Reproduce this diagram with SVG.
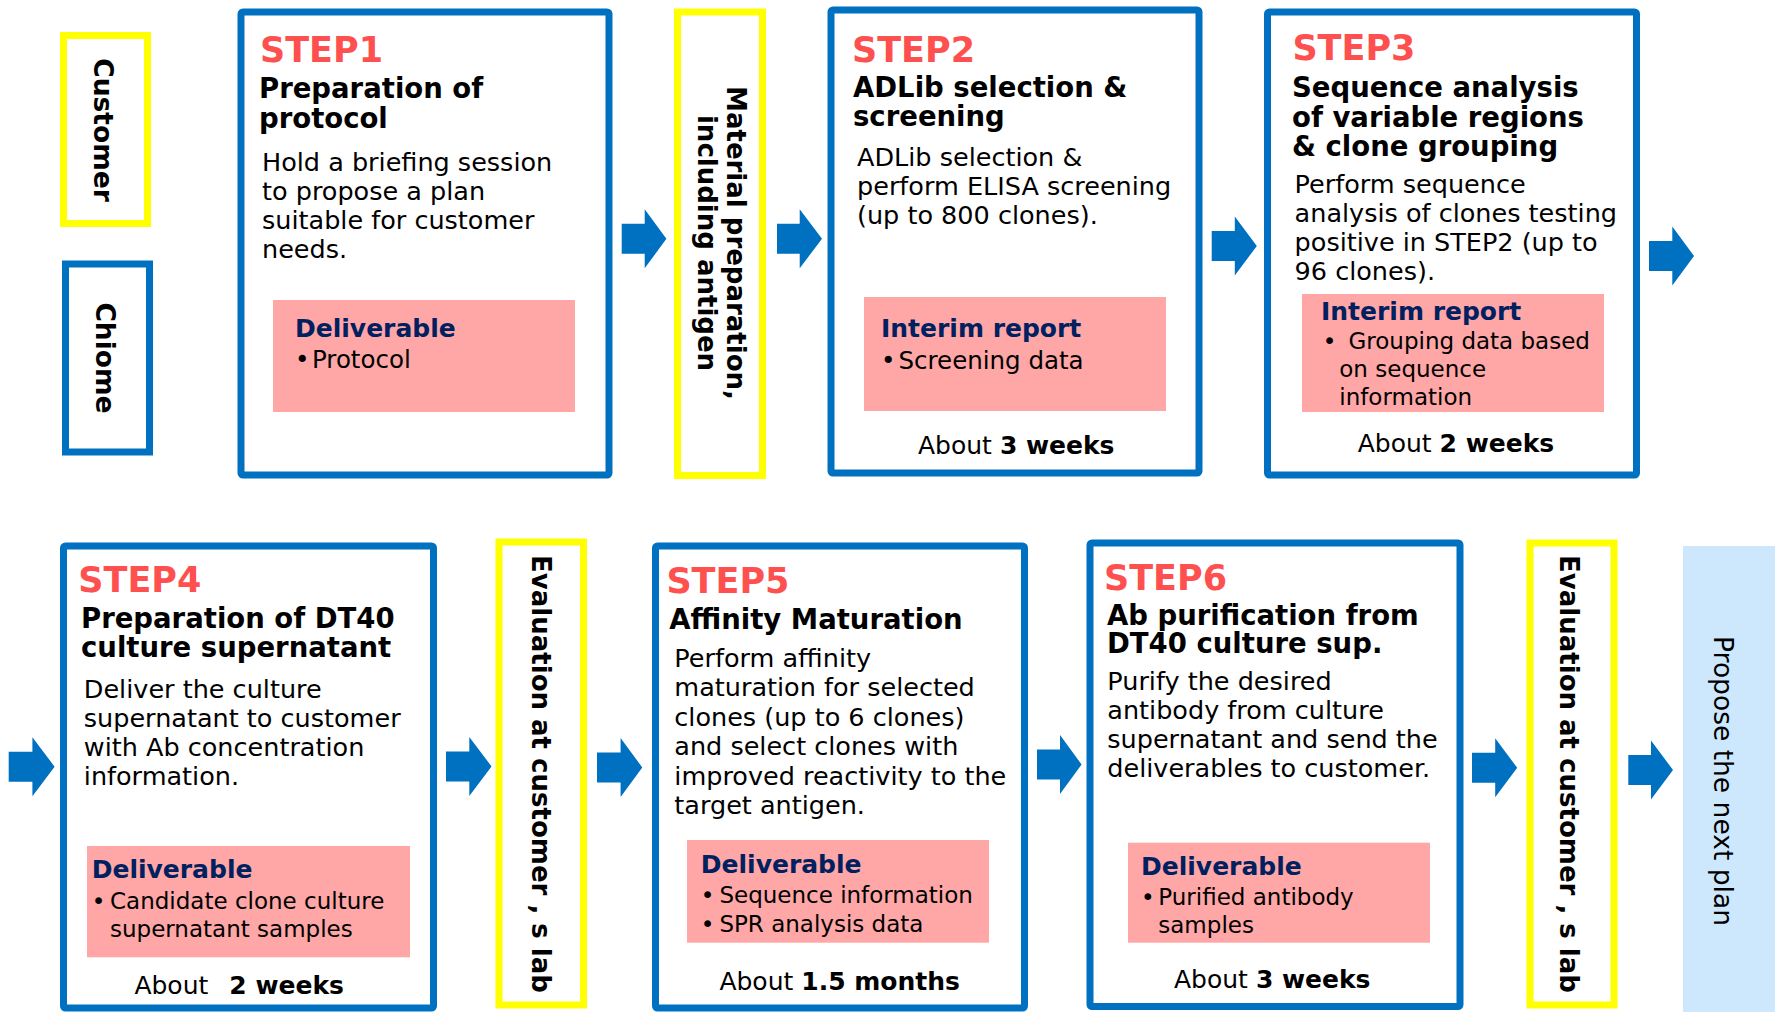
<svg xmlns="http://www.w3.org/2000/svg" width="1775" height="1012" viewBox="0 0 1775 1012">
<style>
text{font-family:"DejaVu Sans","Verdana",sans-serif;fill:#000}
.box{fill:#fff;stroke:#0070C0;stroke-width:7}
.ybox{fill:#fff;stroke:#FFFF00;stroke-width:7}
.pink{fill:#FFA6A6}
.step{font-size:35px;font-weight:bold;fill:#FF5050}
.title{font-size:27.5px;font-weight:bold}
.body{font-size:25.5px}
.dh{font-size:25px;font-weight:bold;fill:#002060}
.di{font-size:23px}
.di2{font-size:24.5px}
.dur{font-size:25px}
.b{font-weight:bold}
.vert{font-size:26.5px;font-weight:bold}
.vert2{font-size:26px;font-weight:bold}
.arrow{fill:#0070C0}
</style>
<rect width="1775" height="1012" fill="#fff"/>

<g id="legend-customer">
<rect class="ybox" x="63.5" y="35.5" width="84" height="188"/>
<text class="vert" transform="translate(94,130) rotate(90)" text-anchor="middle">Customer</text>
</g>
<g id="legend-chiome">
<rect class="box" x="65.5" y="264" width="84" height="188"/>
<text class="vert" transform="translate(96,358) rotate(90)" text-anchor="middle">Chiome</text>
</g>

<g id="step1">
<rect class="box" x="241" y="12" width="368" height="463" rx="2"/>
<text class="step" x="260" y="62">STEP1</text>
<text class="title" x="259" y="98">Preparation of</text>
<text class="title" x="259" y="128">protocol</text>
<text class="body" x="262" y="171">Hold a briefing session</text>
<text class="body" x="262" y="200">to propose a plan</text>
<text class="body" x="262" y="229">suitable for customer</text>
<text class="body" x="262" y="258">needs.</text>
<rect class="pink" x="273" y="300" width="302" height="112"/>
<text class="dh" x="295" y="337">Deliverable</text>
<text class="di2" x="295" y="368">•</text>
<text class="di2" x="312" y="368">Protocol</text>
</g>

<g id="material">
<rect class="ybox" x="677.5" y="12" width="85" height="463.5"/>
<text class="vert2" transform="translate(727,243) rotate(90)" text-anchor="middle">Material preparation,</text>
<text class="vert2" transform="translate(698,243) rotate(90)" text-anchor="middle">including antigen</text>
</g>

<g id="step2">
<rect class="box" x="831" y="10" width="368" height="463" rx="2"/>
<text class="step" x="852" y="62">STEP2</text>
<text class="title" x="853" y="96.5">ADLib selection &amp;</text>
<text class="title" x="853" y="126">screening</text>
<text class="body" x="857" y="165.5">ADLib selection &amp;</text>
<text class="body" x="857" y="194.5">perform ELISA screening</text>
<text class="body" x="857" y="223.5">(up to 800 clones).</text>
<rect class="pink" x="864" y="297" width="302" height="114"/>
<text class="dh" x="881" y="337">Interim report</text>
<text class="di2" x="881" y="369">•</text>
<text class="di2" x="898.5" y="369">Screening data</text>
<text class="dur" x="918" y="454">About <tspan class="b">3 weeks</tspan></text>
</g>

<g id="step3">
<rect class="box" x="1267.5" y="12" width="369" height="463" rx="2"/>
<text class="step" x="1292.4" y="60">STEP3</text>
<text class="title" x="1292" y="96.7">Sequence analysis</text>
<text class="title" x="1292" y="126.5">of variable regions</text>
<text class="title" x="1292" y="156">&amp; clone grouping</text>
<text class="body" x="1294.6" y="193.3">Perform sequence</text>
<text class="body" x="1294.6" y="222.3">analysis of clones testing</text>
<text class="body" x="1294.6" y="251">positive in STEP2 (up to</text>
<text class="body" x="1294.6" y="280">96 clones).</text>
<rect class="pink" x="1302" y="294" width="302" height="118"/>
<text class="dh" x="1321" y="320">Interim report</text>
<text class="di" x="1322.8" y="349.3">•</text>
<text class="di" x="1348.5" y="349.3">Grouping data based</text>
<text class="di" x="1339.3" y="376.5">on sequence</text>
<text class="di" x="1339.3" y="405">information</text>
<text class="dur" x="1357.7" y="451.7">About <tspan class="b">2 weeks</tspan></text>
</g>

<g id="step4">
<rect class="box" x="63.5" y="546" width="370" height="462" rx="2"/>
<text class="step" x="78.3" y="591.7">STEP4</text>
<text class="title" x="81" y="628.3">Preparation of DT40</text>
<text class="title" x="81" y="657.3">culture supernatant</text>
<text class="body" x="83.8" y="698.3">Deliver the culture</text>
<text class="body" x="83.8" y="727">supernatant to customer</text>
<text class="body" x="83.8" y="756">with Ab concentration</text>
<text class="body" x="83.8" y="785">information.</text>
<rect class="pink" x="87" y="846" width="323" height="111.3"/>
<text class="dh" x="91.7" y="878.3">Deliverable</text>
<text class="di" x="91.7" y="909.3">•</text>
<text class="di" x="110" y="909.3">Candidate clone culture</text>
<text class="di" x="110" y="937.3">supernatant samples</text>
<text class="dur" x="134.4" y="994">About <tspan class="b" x="229.3">2 weeks</tspan></text>
</g>

<g id="eval1">
<rect class="ybox" x="499" y="542" width="84.5" height="463"/>
<text class="vert2" transform="translate(531.5,774) rotate(90)" text-anchor="middle">Evaluation at customer , s lab</text>
</g>

<g id="step5">
<rect class="box" x="655.5" y="546" width="369" height="462" rx="2"/>
<text class="step" x="666.4" y="592.7">STEP5</text>
<text class="title" x="669.2" y="629.3">Affinity Maturation</text>
<text class="body" x="674.3" y="666.7">Perform affinity</text>
<text class="body" x="674.3" y="696.2">maturation for selected</text>
<text class="body" x="674.3" y="725.7">clones (up to 6 clones)</text>
<text class="body" x="674.3" y="755.2">and select clones with</text>
<text class="body" x="674.3" y="784.7">improved reactivity to the</text>
<text class="body" x="674.3" y="814">target antigen.</text>
<rect class="pink" x="687" y="840" width="302" height="102.7"/>
<text class="dh" x="700.8" y="873.3">Deliverable</text>
<text class="di" x="700.8" y="902.7">•</text>
<text class="di" x="719.4" y="902.7">Sequence information</text>
<text class="di" x="700.8" y="931.7">•</text>
<text class="di" x="719.4" y="931.7">SPR analysis data</text>
<text class="dur" x="719.4" y="990">About <tspan class="b">1.5 months</tspan></text>
</g>

<g id="step6">
<rect class="box" x="1090" y="543" width="370" height="463.5" rx="2"/>
<text class="step" x="1104" y="590">STEP6</text>
<text class="title" x="1107" y="625">Ab purification from</text>
<text class="title" x="1107" y="652.5">DT40 culture sup.</text>
<text class="body" x="1107.3" y="690">Purify the desired</text>
<text class="body" x="1107.3" y="719.3">antibody from culture</text>
<text class="body" x="1107.3" y="748.3">supernatant and send the</text>
<text class="body" x="1107.3" y="777.3">deliverables to customer.</text>
<rect class="pink" x="1128" y="842.7" width="302" height="100"/>
<text class="dh" x="1141" y="875">Deliverable</text>
<text class="di" x="1141" y="905">•</text>
<text class="di" x="1158.3" y="905">Purified antibody</text>
<text class="di" x="1158.3" y="932.7">samples</text>
<text class="dur" x="1174" y="988.3">About <tspan class="b">3 weeks</tspan></text>
</g>

<g id="eval2">
<rect class="ybox" x="1530" y="543" width="84" height="462"/>
<text class="vert2" transform="translate(1560,774) rotate(90)" text-anchor="middle">Evaluation at customer , s lab</text>
</g>

<g id="next-plan">
<rect x="1683" y="546" width="92" height="466" fill="#CDE8FD"/>
<text transform="translate(1714,781) rotate(90)" text-anchor="middle" font-size="26.5">Propose the next plan</text>
</g>

<g id="connectors">
<polygon class="arrow" points="621.7,223.8 644.7,223.8 644.7,209.3 666.4,238.8 644.7,268.3 644.7,253.8 621.7,253.8"/>
<polygon class="arrow" points="777,223.8 799.7,223.8 799.7,209.3 822,238.8 799.7,268.3 799.7,253.8 777,253.8"/>
<polygon class="arrow" points="1211.7,231 1234.8,231 1234.8,216.5 1256.8,246 1234.8,275.5 1234.8,261 1211.7,261"/>
<polygon class="arrow" points="1649,241 1672.3,241 1672.3,226.5 1694,256 1672.3,285.5 1672.3,271 1649,271"/>
<polygon class="arrow" points="8.7,751.7 32.4,751.7 32.4,737.2 54.6,766.7 32.4,796.2 32.4,781.7 8.7,781.7"/>
<polygon class="arrow" points="446,751.4 469.3,751.4 469.3,736.9 491.5,766.4 469.3,795.9 469.3,781.4 446,781.4"/>
<polygon class="arrow" points="597,752.5 620.6,752.5 620.6,738 642.3,767.5 620.6,797 620.6,782.5 597,782.5"/>
<polygon class="arrow" points="1037,749.5 1060,749.5 1060,735 1081.6,764.5 1060,794 1060,779.5 1037,779.5"/>
<polygon class="arrow" points="1472,752.8 1495.2,752.8 1495.2,738.3 1517.2,767.8 1495.2,797.3 1495.2,782.8 1472,782.8"/>
<polygon class="arrow" points="1628.3,755 1651,755 1651,740.5 1673,770 1651,799.5 1651,785 1628.3,785"/>
</g>
</svg>
